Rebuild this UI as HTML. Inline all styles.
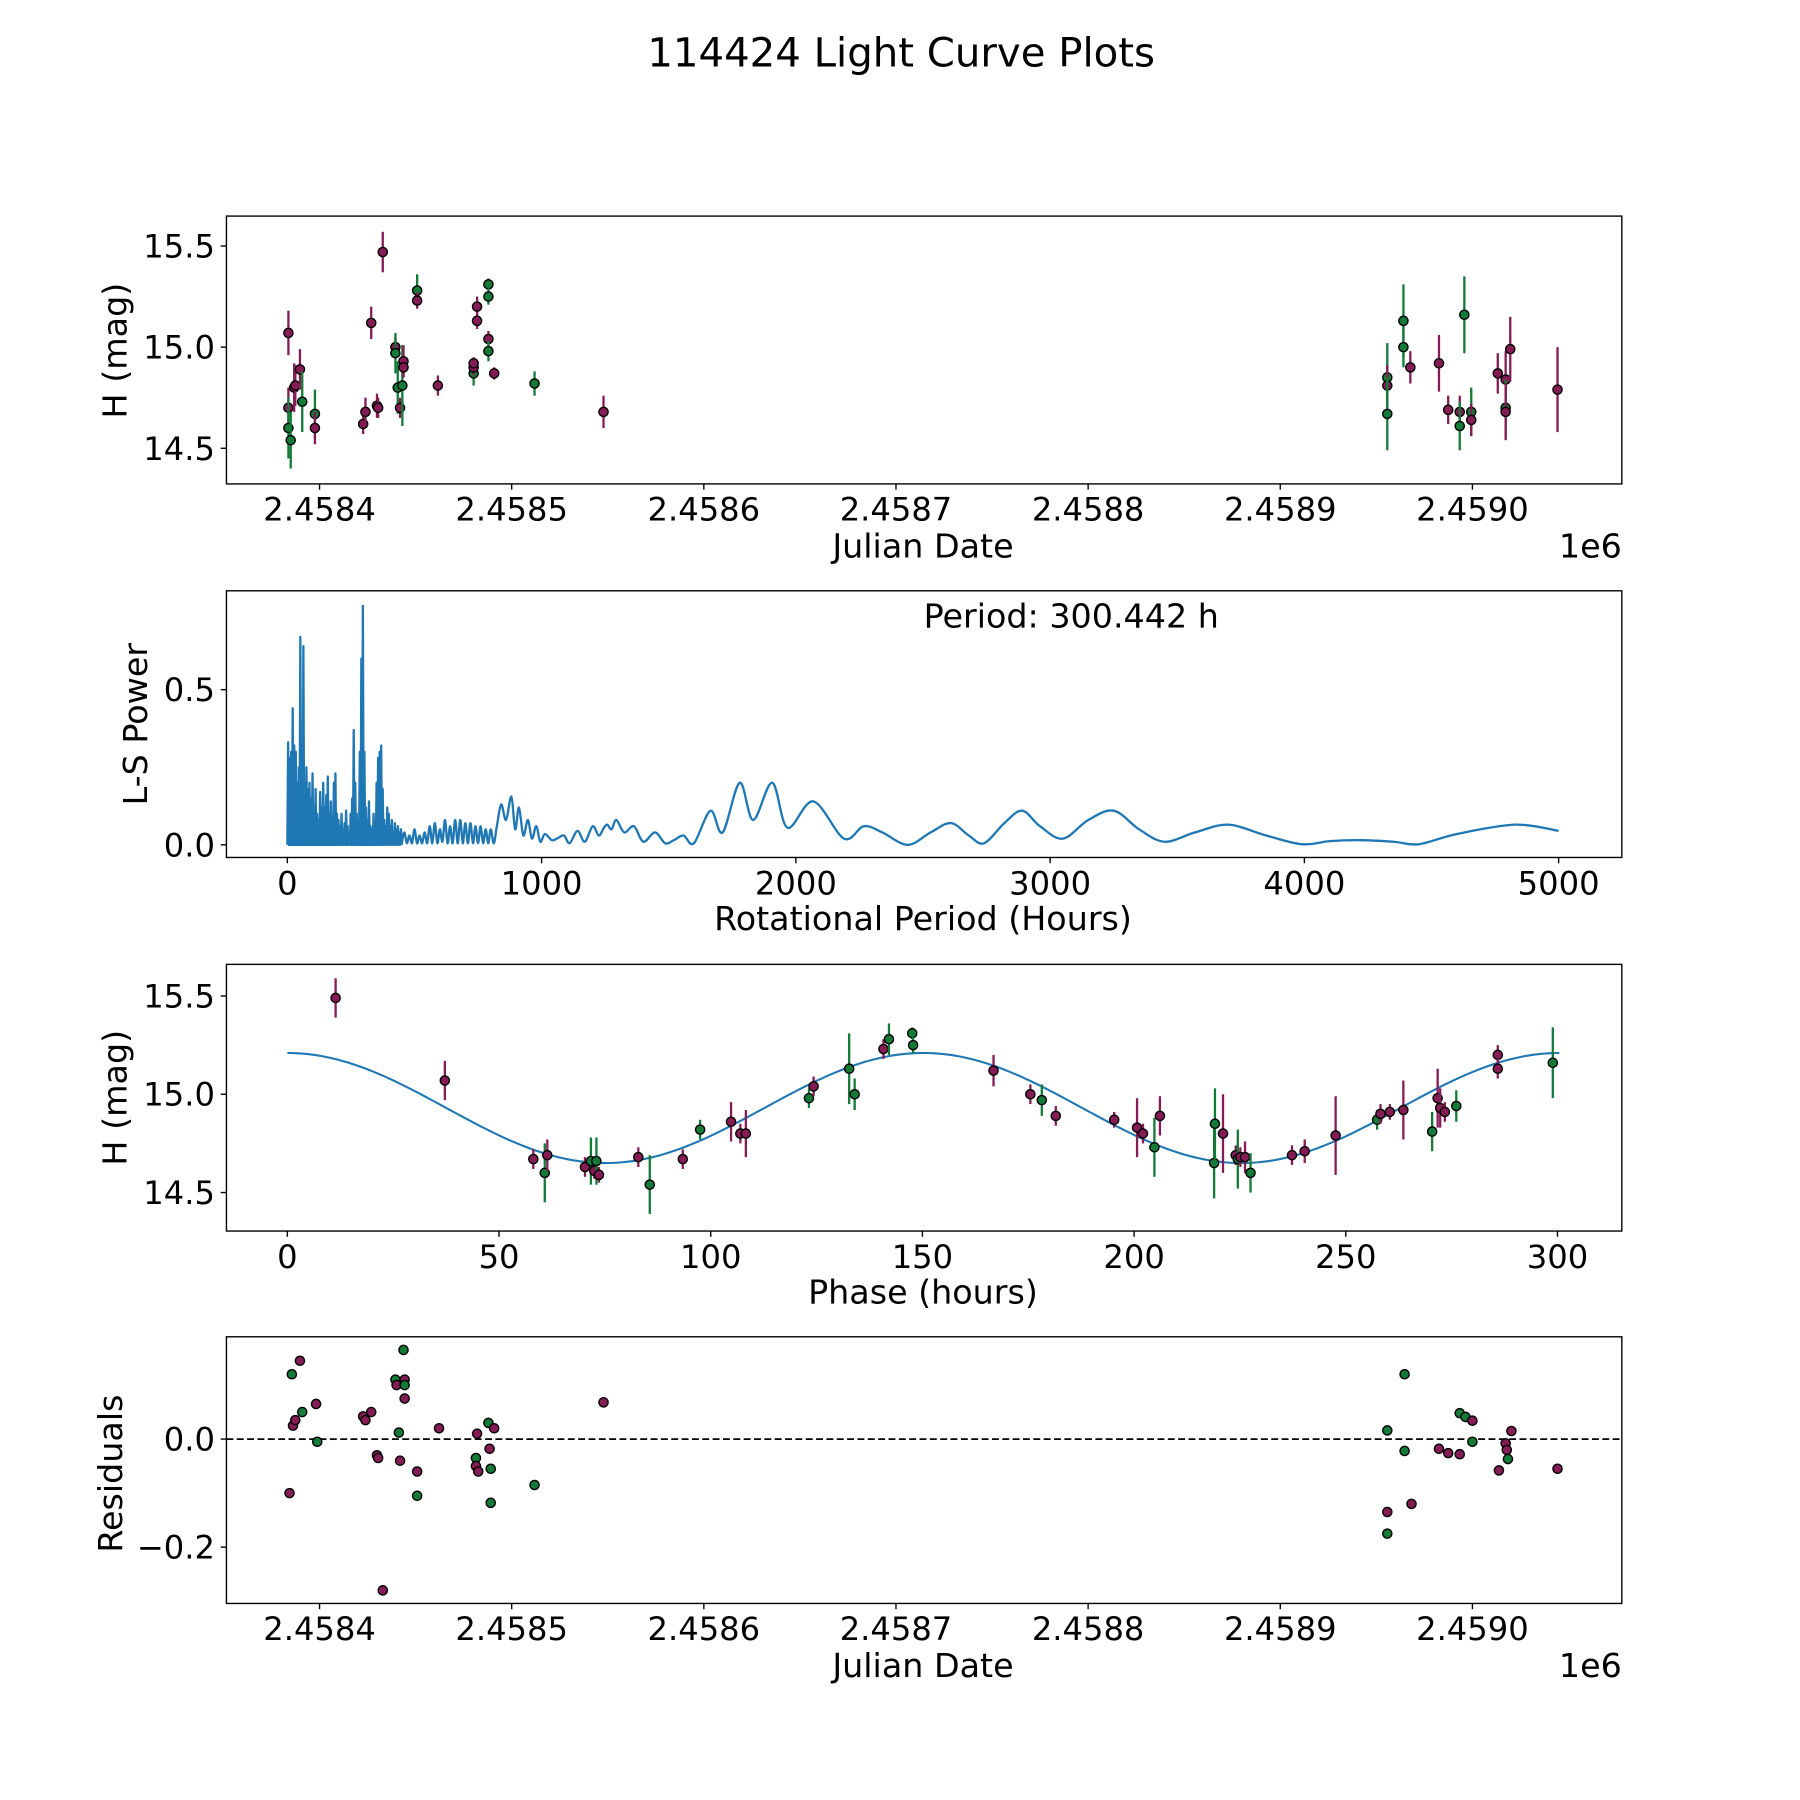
<!DOCTYPE html>
<html><head><meta charset="utf-8">
<style>
html,body{margin:0;padding:0;background:#fff;}
svg{display:block;font-family:"DejaVu Sans","Liberation Sans",sans-serif;}
</style></head>
<body>
<svg id="fig" width="1800" height="1800" viewBox="0 0 1566 1566" xmlns="http://www.w3.org/2000/svg">
<rect width="1566" height="1566" fill="#fff"/>
<text x="784" y="58" font-size="35" text-anchor="middle">114424 Light Curve Plots</text>
</svg>
<script>
// ---------- DATA ----------
const obsJd = [383.8,383.8,383.8,385.0,386.8,387.4,389.8,391.0,397.6,397.6,
 422.7,423.9,426.9,429.9,430.5,432.9,439.5,439.5,440.7,441.9,
 443.1,443.7,443.7,450.8,450.8,461.6,480.2,480.2,480.2,482.0,
 482.0,487.9,487.9,487.9,487.9,490.9,511.9,547.8,955.7,955.7,
 955.7,964.1,964.1,967.7,982.6,987.4,993.4,993.4,995.8,999.4,
 999.4,1013.2,1017.3,1017.3,1017.3,1019.7,1044.3];
const obsMag = [15.07,14.70,14.60,14.54,14.80,14.81,14.89,14.73,14.67,14.60,
 14.62,14.68,15.12,14.71,14.70,15.47,15.00,14.97,14.80,14.70,
 14.81,14.93,14.90,15.28,15.23,14.81,14.87,14.90,14.92,15.20,
 15.13,15.31,15.25,15.04,14.98,14.87,14.82,14.68,14.85,14.81,
 14.67,15.13,15.00,14.90,14.92,14.69,14.68,14.61,15.16,14.68,
 14.64,14.87,14.84,14.70,14.68,14.99,14.79];
const obsErr = [.11,.1,.15,.14,.12,.1,.1,.15,.12,.08,
 .05,.07,.08,.06,.05,.1,.05,.1,.13,.05,
 .2,.08,.05,.08,.04,.05,.06,.04,.03,.05,
 .04,.03,.04,.04,.05,.03,.06,.08,.17,.1,
 .18,.18,.1,.08,.14,.07,.08,.12,.19,.12,
 .08,.1,.14,.14,.14,.16,.21];
const obsCol = ("mmggmmmggm"+"mmmmmmmggm"+"gmmgmmgmmm"+"mggmgmgmgm"+"gggmmmmggg"+"mmmgmmm").split("");

const phaseVal = [11.4,37.2,58.1,60.8,61.4,70.3,71.7,72.5,73.0,73.6,
 82.9,85.6,93.4,97.5,104.8,107.0,108.3,123.2,124.3,132.7,
 134.0,140.8,142.1,147.6,147.8,166.8,175.5,178.2,181.5,195.3,
 200.7,202.1,204.8,206.1,218.9,219.1,221.0,224.0,224.5,225.1,
 226.2,227.5,237.3,240.3,247.6,257.4,258.2,260.4,263.6,270.4,
 271.7,272.3,273.4,276.1,285.9,285.9,298.9];
const phaseMag = [15.49,15.07,14.67,14.60,14.69,14.63,14.66,14.61,14.66,14.59,
 14.68,14.54,14.67,14.82,14.86,14.80,14.80,14.98,15.04,15.13,
 15.00,15.23,15.28,15.31,15.25,15.12,15.00,14.97,14.89,14.87,
 14.83,14.80,14.73,14.89,14.65,14.85,14.80,14.69,14.67,14.68,
 14.68,14.60,14.69,14.71,14.79,14.87,14.90,14.91,14.92,14.81,
 14.98,14.93,14.91,14.94,15.20,15.13,15.16];
const phaseErr = [.1,.1,.05,.15,.08,.05,.12,.04,.12,.04,
 .05,.15,.05,.05,.1,.05,.12,.05,.05,.18,
 .08,.05,.08,.03,.04,.08,.05,.08,.05,.04,
 .15,.05,.15,.1,.18,.18,.2,.05,.15,.05,
 .08,.1,.05,.06,.2,.05,.05,.04,.15,.1,
 .15,.1,.05,.08,.05,.05,.18];
const phaseCol = ("mmmgmmgmgm"+"mgmgmmmgmg"+"gmgggmmgmm"+"mmgmggmmgm"+"mgmmmgmmmg"+"mmmgmmg").split("");

const resJd = [384.4,385.6,386.2,387.4,389.8,391.0,398.2,398.8,422.7,423.9,
 426.9,429.9,430.5,432.9,439.5,440.1,441.3,441.9,443.7,444.3,
 444.3,444.3,450.8,450.8,462.2,481.4,481.4,482.0,482.6,487.9,
 488.5,489.1,489.1,490.9,511.9,547.8,955.7,955.7,955.7,964.7,
 964.7,968.3,982.6,987.4,993.4,993.4,996.4,1000.0,1000.0,1013.8,
 1017.3,1017.9,1018.5,1020.3,1044.3];
const resVal = [-0.10,0.12,0.025,0.035,0.145,0.05,0.065,-0.005,0.042,0.035,
 0.05,-0.03,-0.035,-0.28,0.11,0.10,0.012,-0.04,0.165,0.11,
 0.10,0.075,-0.06,-0.105,0.02,-0.035,-0.05,0.01,-0.06,0.03,
 -0.018,-0.055,-0.118,0.02,-0.085,0.068,0.016,-0.135,-0.175,0.12,
 -0.022,-0.12,-0.018,-0.026,-0.028,0.048,0.041,0.034,-0.005,-0.058,
 -0.008,-0.02,-0.037,0.015,-0.055];
const resCol = ("mgmmmgmgmm"+"mmmmgmgmgm"+"gmmgmgmmmg"+"mggmgmgmgg"+"gmmmmggmgm"+"mmgmm").split("");

// periodogram: dense spike region (stems) + smooth region
const spikePeriod = [3,9,15,21,27,33,39,45,51,57,
 63,69,75,81,87,93,99,105,111,117,
 123,129,135,141,147,153,159,165,171,177,
 183,189,195,201,207,213,219,225,231,237,
 243,249,255,261,267,273,279,285,291,297,
 303,309,315,321,327,333,339,345,351,357,
 363,369,375,381,387,393,399,405,411,417,
 423,429,435,441,447];
const spikePower = [.33,.28,.3,.44,.32,.3,.2,.25,.67,.25,
 .64,.2,.25,.18,.2,.15,.23,.12,.18,.1,
 .08,.17,.12,.2,.12,.16,.22,.1,.14,.06,
 .2,.23,.1,.08,.06,.1,.05,.07,.11,.06,
 .04,.1,.15,.37,.2,.1,.05,.3,.6,.77,
 .3,.12,.08,.14,.06,.05,.1,.06,.2,.28,
 .3,.32,.18,.08,.06,.12,.1,.06,.08,.04,
 .07,.05,.06,.04,.05];
const lsPeriod = [450,460,470,480,490,500,510,520,530,540,
 550,560,570,580,590,600,610,620,630,640,
 650,660,670,680,690,700,710,720,730,740,
 750,760,770,780,790,800,812,824,841,860,
 881,896,911,928,946,962,979,995,1013,1040,
 1060,1088,1110,1141,1170,1201,1225,1245,1258,1275,
 1294,1325,1363,1400,1446,1486,1520,1558,1599,1664,
 1712,1779,1832,1907,1967,2069,2189,2267,2340,2440,
 2530,2610,2680,2740,2820,2890,2960,3050,3150,3250,
 3350,3450,3570,3700,3850,3990,4100,4220,4350,4450,
 4600,4830,5000];
const lsPower = [.005,.04,.005,.03,.005,.05,.005,.03,.005,.04,
 .005,.06,.005,.07,.005,.05,.01,.08,.005,.06,
 .005,.08,.005,.08,.005,.07,.005,.07,.005,.06,
 .005,.06,.005,.05,.005,.05,.005,.06,.13,.08,
 .155,.05,.12,.03,.08,.02,.06,.01,.035,.015,
 .02,.03,.005,.045,.01,.06,.03,.055,.065,.05,
 .08,.04,.06,.01,.04,.005,.015,.03,.005,.11,
 .04,.2,.08,.2,.055,.14,.02,.06,.04,0,
 .04,.07,.03,.005,.07,.11,.06,.02,.08,.11,
 .05,.01,.04,.065,.03,.002,.012,.015,.01,.002,
 .035,.065,.045];

const jdTicks = [400,500,600,700,800,900,1000];
const jdTickLabels = ["2.4584","2.4585","2.4586","2.4587","2.4588","2.4589","2.4590"];
const magTicks = [14.5,15.0,15.5];
const magTickLabels = ["14.5","15.0","15.5"];
const lsXTicks = [0,1000,2000,3000,4000,5000];
const lsYTicks = [0,0.5];
const lsYTickLabels = ["0.0","0.5"];
const phTicks = [0,50,100,150,200,250,300];
const resTicks = [0,-0.2];
const resTickLabels = ["0.0","\u22120.2"];
const modelMean = 14.93, modelAmp = 0.28, foldPeriod = 300.442;

// ---------- HELPERS ----------
const NS = "http://www.w3.org/2000/svg";
const svg = document.getElementById("fig");
const COL = {m:"#851c55", g:"#137a37"};
const L = 197, R = 1411;
const TF = 28, LF = 29;
function mk(tag, attrs, parent){ const e=document.createElementNS(NS,tag); for(const k in attrs) e.setAttribute(k,attrs[k]); (parent||svg).appendChild(e); return e; }
function lin(d0,d1,r0,r1){ return v => r0 + (v-d0)*(r1-r0)/(d1-d0); }

function axesBox(top,bottom,name){
  const g = mk("g",{});
  
  
  const r = mk("rect",{x:L,y:top,width:R-L,height:bottom-top,fill:"none",stroke:"#000","stroke-width":1.2},g);
  
  
  return g;
}
function xTicks(g,vals,labels,sx,bottom,name){
  vals.forEach((v,i)=>{
    const x=sx(v);
    const t=mk("line",{x1:x,x2:x,y1:bottom,y2:bottom+5,stroke:"#000","stroke-width":1.2},g);
    
    
    const tx=mk("text",{x:x,y:bottom+32,"font-size":TF,"text-anchor":"middle"},g);
    tx.textContent=labels[i];
    
    
  });
}
function yTicks(g,vals,labels,sy,name){
  vals.forEach((v,i)=>{
    const y=sy(v);
    const t=mk("line",{x1:L-5,x2:L,y1:y,y2:y,stroke:"#000","stroke-width":1.2},g);
    
    
    const tx=mk("text",{x:L-10,y:y+10,"font-size":TF,"text-anchor":"end"},g);
    tx.textContent=labels[i];
    
    
  });
}
function label(g,txt,x,y,rot,name,anchor){
  const t=mk("text",{x:x,y:y,"font-size":LF,"text-anchor":anchor||"middle"},g);
  if(rot) t.setAttribute("transform","rotate(-90 "+x+" "+y+")");
  t.textContent=txt;
  
  
}
function point(g,x,y,c,err,sy,mag,name){
  if(err!==null){
    const l=mk("line",{x1:x,x2:x,y1:sy(mag+err),y2:sy(mag-err),stroke:COL[c],"stroke-width":2},g);
    
    
  }
  const p=mk("circle",{cx:x,cy:y,r:4,fill:COL[c],stroke:"#000","stroke-width":1.2},g);
  
  
}
function smoothPath(xs,ys){
  let d="M"+xs[0].toFixed(2)+" "+ys[0].toFixed(2);
  for(let i=0;i<xs.length-1;i++){
    const x0=xs[Math.max(i-1,0)],y0=ys[Math.max(i-1,0)];
    const x1=xs[i],y1=ys[i],x2=xs[i+1],y2=ys[i+1];
    const x3=xs[Math.min(i+2,xs.length-1)],y3=ys[Math.min(i+2,xs.length-1)];
    const c1x=x1+(x2-x0)/6,c1y=y1+(y2-y0)/6,c2x=x2-(x3-x1)/6,c2y=y2-(y3-y1)/6;
    d+="C"+c1x.toFixed(2)+" "+c1y.toFixed(2)+" "+c2x.toFixed(2)+" "+c2y.toFixed(2)+" "+x2.toFixed(2)+" "+y2.toFixed(2);
  }
  return d;
}

// ---------- PANEL 1 ----------
(function(){
  const top=188,bottom=421;
  const sx=lin(400,1000,278,1281), sy=lin(15.0,15.5,302,214);
  const g=axesBox(top,bottom,"light-curve-axes");
  obsJd.forEach((j,i)=>point(g,sx(j),sy(obsMag[i]),obsCol[i],obsErr[i],sy,obsMag[i],"observation-point"));
  xTicks(g,jdTicks,jdTickLabels,sx,bottom,"jd-x-axis");
  yTicks(g,magTicks,magTickLabels,sy,"mag-y-axis");
  label(g,"Julian Date",803,485,false,"x-axis-title");
  label(g,"1e6",1411,485,false,"x-axis-offset","end");
  label(g,"H (mag)",110,305,true,"y-axis-title");
})();

// ---------- PANEL 2 ----------
(function(){
  const top=514,bottom=746;
  const sx=lin(0,5000,250,1356), sy=lin(0,0.5,735,600);
  const g=axesBox(top,bottom,"periodogram-axes");
  let d="M"+sx(0)+" "+sy(0);
  spikePeriod.forEach((p,i)=>{ d+="L"+sx(p).toFixed(2)+" "+sy(spikePower[i]).toFixed(2)+"L"+(sx(p)+0.66).toFixed(2)+" "+sy(0).toFixed(2); });
  const sp=mk("path",{d:d,fill:"none",stroke:"#1f77b4","stroke-width":2,"stroke-linejoin":"round"},g);
  
  
  const path=mk("path",{d:smoothPath(lsPeriod.map(sx),lsPower.map(sy)),fill:"none",stroke:"#1f77b4","stroke-width":2,"stroke-linejoin":"round"},g);
  
  
  xTicks(g,lsXTicks,lsXTicks.map(String),sx,bottom,"period-x-axis");
  yTicks(g,lsYTicks,lsYTickLabels,sy,"power-y-axis");
  label(g,"Rotational Period (Hours)",803,809,false,"x-axis-title");
  label(g,"L-S Power",128,630,true,"y-axis-title");
  label(g,"Period: "+foldPeriod.toFixed(3)+" h",932,546,false,"period-annotation");
})();

// ---------- PANEL 3 ----------
(function(){
  const top=839,bottom=1071;
  const sx=lin(0,300,250,1355), sy=lin(15.0,15.5,952,866.5);
  const g=axesBox(top,bottom,"phase-fold-axes");
  let d="";
  for(let k=0;k<=300;k++){ const ph=k*foldPeriod/300; const m=modelMean+modelAmp*Math.cos(4*Math.PI*ph/foldPeriod); d+=(k?"L":"M")+sx(ph).toFixed(2)+" "+sy(m).toFixed(2); }
  const path=mk("path",{d:d,fill:"none",stroke:"#1f77b4","stroke-width":1.8},g);
  
  
  phaseVal.forEach((p,i)=>point(g,sx(p),sy(phaseMag[i]),phaseCol[i],phaseErr[i],sy,phaseMag[i],"phased-point"));
  xTicks(g,phTicks,phTicks.map(String),sx,bottom,"phase-x-axis");
  yTicks(g,magTicks,magTickLabels,sy,"mag-y-axis");
  label(g,"Phase (hours)",803,1134,false,"x-axis-title");
  label(g,"H (mag)",110,955,true,"y-axis-title");
})();

// ---------- PANEL 4 ----------
(function(){
  const top=1163,bottom=1395;
  const sx=lin(400,1000,278,1281), sy=lin(0,-0.2,1252,1346);
  const g=axesBox(top,bottom,"residuals-axes");
  const zl=mk("line",{x1:L,x2:R,y1:sy(0),y2:sy(0),stroke:"#000","stroke-width":1.5,"stroke-dasharray":"6,3"},g);
  
  
  resJd.forEach((j,i)=>point(g,sx(j),sy(resVal[i]),resCol[i],null,sy,0,"residual-point"));
  xTicks(g,jdTicks,jdTickLabels,sx,bottom,"jd-x-axis");
  yTicks(g,resTicks,resTickLabels,sy,"residual-y-axis");
  label(g,"Julian Date",803,1459,false,"x-axis-title");
  label(g,"1e6",1411,1459,false,"x-axis-offset","end");
  label(g,"Residuals",106,1282,true,"y-axis-title");
})();
</script>
</body></html>
